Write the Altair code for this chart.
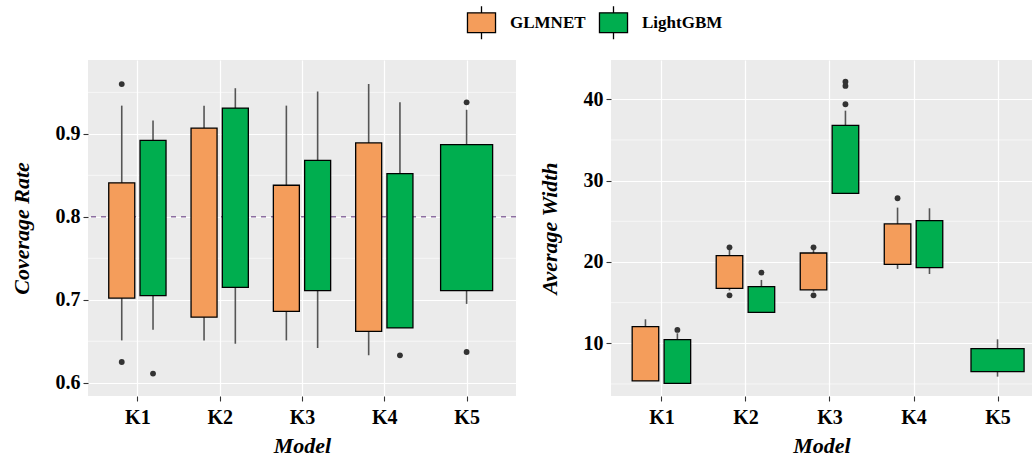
import json
import altair as alt
import pandas as pd

# ---------------- data ----------------
models = ["K1", "K2", "K3", "K4", "K5"]
groups = ["GLMNET", "LightGBM"]
colors = ["#F49D5B", "#00AE4F"]

# Coverage rate (left panel)
cov_model = ["K1", "K1", "K2", "K2", "K3", "K3", "K4", "K4", "K5"]
cov_group = ["GLMNET", "LightGBM", "GLMNET", "LightGBM", "GLMNET", "LightGBM", "GLMNET", "LightGBM", "LightGBM"]
cov_wlo = [0.651, 0.664, 0.651, 0.647, 0.651, 0.642, 0.633, 0.666, 0.695]
cov_q1 = [0.702, 0.705, 0.679, 0.715, 0.686, 0.711, 0.662, 0.666, 0.711]
cov_q3 = [0.841, 0.892, 0.907, 0.931, 0.838, 0.868, 0.889, 0.852, 0.887]
cov_whi = [0.934, 0.916, 0.934, 0.955, 0.934, 0.951, 0.960, 0.938, 0.929]
cov_out_model = ["K1", "K1", "K1", "K4", "K5", "K5"]
cov_out_group = ["GLMNET", "GLMNET", "LightGBM", "LightGBM", "LightGBM", "LightGBM"]
cov_out_value = [0.960, 0.625, 0.611, 0.633, 0.938, 0.637]
cov_target = [0.8]
cov_ticks = [0.6, 0.7, 0.8, 0.9]
cov_minor = [0.65, 0.75, 0.85, 0.95]

# Average width (right panel)
wid_model = ["K1", "K1", "K2", "K2", "K3", "K3", "K4", "K4", "K5"]
wid_group = ["GLMNET", "LightGBM", "GLMNET", "LightGBM", "GLMNET", "LightGBM", "GLMNET", "LightGBM", "LightGBM"]
wid_wlo = [5.37, 5.08, 16.5, 13.81, 16.35, 28.44, 19.14, 18.52, 5.9]
wid_q1 = [5.37, 5.08, 16.76, 13.81, 16.56, 28.44, 19.71, 19.30, 6.52]
wid_q3 = [12.05, 10.45, 20.78, 16.97, 21.1, 36.8, 24.67, 25.08, 9.34]
wid_whi = [12.95, 11.23, 21.5, 17.79, 21.5, 38.6, 26.68, 26.6, 10.49]
wid_out_model = ["K1", "K2", "K2", "K2", "K3", "K3", "K3", "K3", "K3", "K4"]
wid_out_group = ["LightGBM", "GLMNET", "GLMNET", "LightGBM", "GLMNET", "GLMNET", "LightGBM", "LightGBM", "LightGBM", "GLMNET"]
wid_out_value = [11.64, 21.8, 15.9, 18.69, 21.8, 15.9, 42.17, 41.64, 39.39, 27.83]
wid_ticks = [10, 20, 30, 40]
wid_minor = [5, 15, 25, 35]

FONT = "Liberation Serif"
DODGE = 0.19
HALF = 0.158


def place(box_models, box_groups, m_col, g_col):
    counts = pd.Series(box_models).value_counts()
    xc, hw = [], []
    for m, g in zip(m_col, g_col):
        i = models.index(m) + 1
        if counts[m] > 1:
            xc.append(i + (-DODGE if g == groups[0] else DODGE))
            hw.append(HALF)
        else:
            xc.append(i)
            hw.append(2 * HALF)
    return xc, hw


def panel(bm, bg, wlo, q1, q3, whi, om, og, ov, ytitle, ydom, yticks, yminor, xdom, width, target=None):
    xc, hw = place(bm, bg, bm, bg)
    box = pd.DataFrame({"model": bm, "group": bg, "wlo": wlo, "q1": q1, "q3": q3, "whi": whi,
                        "xc": xc, "xl": [c - h for c, h in zip(xc, hw)], "xr": [c + h for c, h in zip(xc, hw)]})
    oxc, _ = place(bm, bg, om, og)
    outs = pd.DataFrame({"model": om, "group": og, "v": ov, "xc": oxc})

    xscale = alt.Scale(domain=xdom, nice=False, zero=False)
    yscale = alt.Scale(domain=ydom, nice=False, zero=False)
    xaxis = alt.Axis(values=list(range(1, len(models) + 1)),
                     labelExpr=json.dumps(models) + "[datum.value - 1]",
                     title="Model", grid=True, labelPadding=6, titlePadding=8)
    yaxis = alt.Axis(values=yticks, title=ytitle, grid=True, labelPadding=3, titlePadding=22)

    minor = alt.Chart(pd.DataFrame({"v": yminor})).mark_rule(color="white", strokeWidth=0.6).encode(
        y=alt.Y("v:Q", scale=yscale, axis=yaxis))
    layers = [minor]
    if target is not None:
        ref = alt.Chart(pd.DataFrame({"v": target})).mark_rule(
            color="#8C6EA0", strokeDash=[5, 5], strokeWidth=1.6).encode(
            y=alt.Y("v:Q", scale=yscale, axis=yaxis))
        layers.append(ref)
    whisk = alt.Chart(box).mark_rule(color="#555555", strokeWidth=1.6).encode(
        x=alt.X("xc:Q", scale=xscale, axis=xaxis),
        y=alt.Y("wlo:Q", scale=yscale, axis=yaxis), y2="whi:Q")
    bars = alt.Chart(box).mark_bar(stroke="black", strokeWidth=1.3, opacity=1).encode(
        x=alt.X("xl:Q", scale=xscale, axis=xaxis), x2="xr:Q",
        y=alt.Y("q1:Q", scale=yscale, axis=yaxis), y2="q3:Q",
        fill=alt.Fill("group:N", scale=alt.Scale(domain=groups, range=colors),
                      legend=alt.Legend(title=None, orient="none", direction="horizontal",
                                        legendX=376, legendY=-55,
                                        symbolType="M-0.85,-0.6H0.85V0.6H-0.85Z M0,-0.6V-1 M0,0.6V1",
                                        symbolSize=1089, symbolStrokeColor="black",
                                        symbolStrokeWidth=1.3, symbolOpacity=1,
                                        labelFont=FONT, labelFontSize=17, labelFontWeight="bold",
                                        labelColor="black", labelOffset=11, columnPadding=10)))
    pts = alt.Chart(outs).mark_circle(size=34, color="#333333", opacity=1).encode(
        x=alt.X("xc:Q", scale=xscale, axis=xaxis),
        y=alt.Y("v:Q", scale=yscale, axis=yaxis))
    layers += [whisk, bars, pts]
    return alt.layer(*layers).properties(width=width, height=336)


left = panel(cov_model, cov_group, cov_wlo, cov_q1, cov_q3, cov_whi,
             cov_out_model, cov_out_group, cov_out_value,
             "Coverage Rate", [0.584, 0.989], cov_ticks, cov_minor, [0.4, 5.6], 428, target=cov_target)
right = panel(wid_model, wid_group, wid_wlo, wid_q1, wid_q3, wid_whi,
              wid_out_model, wid_out_group, wid_out_value,
              "Average Width", [3.52, 44.83], wid_ticks, wid_minor, [0.4, 5.41], 421)

chart = alt.hconcat(left, right, spacing=95, bounds="flush").properties(
    padding={"left": 10, "top": 5, "right": 0, "bottom": 0}
).configure_view(fill="#EBEBEB", stroke=None).configure_axis(
    domain=False, tickColor="#333333", tickSize=5, tickWidth=1.1,
    labelFont=FONT, labelFontSize=20, labelFontWeight="bold", labelColor="black",
    titleFont=FONT, titleFontSize=22, titleFontStyle="italic", titleFontWeight="bold",
    titleColor="black", gridColor="white", gridWidth=1.2
)

chart.save("out.html", embed_options={"renderer": "svg", "actions": False})
